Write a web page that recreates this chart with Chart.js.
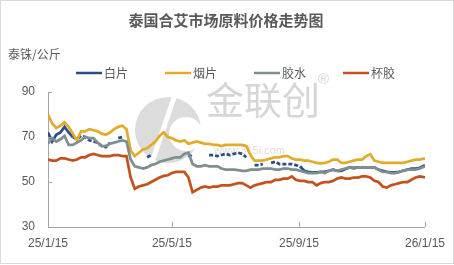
<!DOCTYPE html>
<html>
<head>
<meta charset="utf-8">
<script src="https://cdn.jsdelivr.net/npm/chart.js@4.4.1/dist/chart.umd.min.js"></script>
<style>
  html, body { margin: 0; padding: 0; background: #fff; }
  #wrap { width: 454px; height: 265px; }
</style>
</head>
<body>
<div id="wrap"><canvas id="priceChart" width="454" height="265"></canvas></div>
<script>
// days since 2025-01-15
const days = [
  0, 4, 8, 12, 16, 20, 24, 28, 32, 36,
  40, 44, 48, 52, 56, 60, 64, 68, 72, 76,
  80, 84, 88, 92, 96, 100, 104, 108, 112, 116,
  120, 124, 128, 132, 136, 140, 144, 148, 152, 156,
  160, 164, 168, 172, 176, 180, 184, 188, 192, 196,
  200, 204, 208, 212, 216, 220, 224, 228, 232, 236,
  240, 244, 248, 252, 256, 260, 264, 268, 272, 276,
  280, 284, 288, 292, 296, 300, 304, 308, 312, 316,
  320, 324, 328, 332, 336, 340, 344, 348, 352, 356,
  360, 365
];

const baiPian = [
  72, 68, 71, 72, 74.5, 72, 70, 69, 70.5, 70,
  68.5, 68, 67.5, 66, 65.5, 67.5, null, 69.5, 70, null,
  null, null, null, null, 61, 62, null, null, null, null,
  null, null, null, null, 61, 62.5, null, null, null, 62,
  62, 61.5, 62, 62.5, 62, 62.5, 63, 62.5, 61, null,
  57.5, 57.5, 58, null, 58.5, 59, 58, 58, 58, 58,
  57.5, 57, 55, 54.5, 54.3, 54.3, 54.5, 54.5, 55, 55.5,
  55, 55, 55.8, 56.5, 56.3, 56.5, 56.5, 56.5, 56.5, 56.5,
  55.5, 55, 54.5, 54.3, 54.3, 54.5, 55, 55.5, 56, 56,
  56.3, 57.5
];

const yanPian = [
  80, 76, 74, 75, 76.5, 74.5, 71.5, 68.5, 72.5, 72.5,
  73.5, 73, 72.5, 71.5, 71, 72, 73.5, 74.5, 75, 73.5,
  64, 61.5, 63, 64.5, 65, 66.5, 68, 70.5, 72, 70,
  69.5, 68.5, 68, 68.5, 67, 67.5, 68, 67.5, 67, 67,
  66.5, 66.5, 66, 66.5, 66.5, 66.5, 66.5, 66.5, 66, 62,
  59.5, 59.5, 59.5, 60, 60.5, 61, 61, 61.5, 61.5, 60.5,
  60, 60, 59.5, 59.5, 59, 58.5, 58.3, 58.5, 59, 60,
  60, 58.5, 58.5, 59, 59.5, 60, 60, 61.5, 62.3, 59.5,
  59, 58.5, 58.5, 58.5, 58.5, 58.5, 58.5, 59, 59.5, 60,
  60, 60.5
];

const jiaoShui = [
  67, 69.5, 68, 69, 70.5, 66.5, 66.5, 67.5, 68.5, 70,
  69.5, 69.5, 67.5, 66, 66, 67, 67.5, 68, 68.5, 68,
  60, 57, 56.5, 56, 56.5, 57.5, 58, 59, 59.5, 60,
  60.5, 61, 61, 62.5, 63, 58, 57, 57, 57.5, 57,
  57, 57, 56, 55.5, 55.5, 55.5, 55.3, 55, 55, 55.5,
  55.5, 55.5, 56, 56, 56, 55.5, 55.5, 56, 56, 55.5,
  55.5, 55, 54.5, 54, 54, 54, 54.5, 54, 55, 55.5,
  55, 55.5, 56, 56.5, 56, 56.5, 56.5, 56.5, 56.5, 56.5,
  55.5, 54.5, 54.5, 54, 54, 54.5, 55, 55.5, 55.5, 55.5,
  56, 57
];

const beiJiao = [
  60, 59.5, 59.5, 60.5, 60.5, 60, 59.5, 60, 61, 61,
  62, 62.5, 62, 61.5, 61.5, 61.5, 62, 62, 61.5, 61.5,
  52, 47, 48, 48.5, 49, 50, 51, 52, 52.7, 53,
  54, 54.5, 54.5, 54.5, 52, 45.5, 46.5, 47.5, 48, 47.5,
  48, 48, 48.5, 48.5, 48.5, 49, 49.5, 49.5, 48.5, 47.5,
  48.5, 49, 49.5, 50, 50, 51, 51, 51.5, 51.5, 52.5,
  51, 50.5, 50.5, 50, 50, 48.5, 49.5, 50, 50, 50.5,
  51.5, 52, 51.5, 51.5, 52, 52, 52.5, 52.5, 52, 50.5,
  50, 48, 47.5, 48.5, 49, 49.5, 50, 50, 51, 52,
  52.5, 52
];

const seriesNames = ["白片", "烟片", "胶水", "杯胶"];
const seriesColors = ["#2c4c8c", "#e2ab2c", "#7f8e8e", "#c3521f"];
const xTickDays = [0, 120, 243, 365];
const xTickLabels = ["25/1/15", "25/5/15", "25/9/15", "26/1/15"];
const yTicks = [30, 50, 70, 90];

const TEXT = "#595959";
const AXIS = "#a6a6a6";
const LATIN = "'Liberation Sans', 'Noto Sans CJK SC', sans-serif";
const CJK = "'Noto Sans CJK SC', sans-serif";

function pts(values) {
  return values.map((v, i) => ({ x: days[i], y: v }));
}

const decorPlugin = {
  id: "decor",
  beforeDatasetsDraw(chart) {
    const ctx = chart.ctx;
    ctx.save();
    // faint watermark logo
    ctx.fillStyle = "#dcdcdc";
    ctx.beginPath();
    ctx.arc(168, 130, 33, 0, Math.PI * 2);
    ctx.fill();
    ctx.fillStyle = "#fff";
    ctx.beginPath();
    ctx.arc(186, 134, 17, 0, Math.PI * 2);
    ctx.fill();
    ctx.strokeStyle = "#fff";
    ctx.lineWidth = 5;
    ctx.beginPath();
    ctx.moveTo(176, 92);
    ctx.lineTo(150, 168);
    ctx.stroke();
    ctx.fillStyle = "#d6d6d6";
    ctx.font = "38px " + CJK;
    ctx.textBaseline = "middle";
    ctx.fillText("金联创", 206, 100);
    ctx.font = "15px " + LATIN;
    ctx.fillText("®", 318, 80);
    ctx.font = "11px " + LATIN;
    ctx.fillStyle = "#dcdcdc";
    ctx.fillText("www.315i.com", 214, 151);
    ctx.restore();
  },
  afterDraw(chart) {
    const ctx = chart.ctx;
    const xs = chart.scales.x, ys = chart.scales.y;
    ctx.save();
    // inner tick marks
    ctx.strokeStyle = AXIS;
    ctx.lineWidth = 1;
    ctx.beginPath();
    xs.ticks.forEach(t => {
      const px = Math.round(xs.getPixelForValue(t.value)) + 0.5;
      ctx.moveTo(px, ys.bottom);
      ctx.lineTo(px, ys.bottom - 5);
    });
    ys.ticks.forEach(t => {
      const py = Math.round(ys.getPixelForValue(t.value)) + 0.5;
      ctx.moveTo(xs.left, py);
      ctx.lineTo(xs.left + 4, py);
    });
    ctx.stroke();

    // title
    ctx.fillStyle = TEXT;
    ctx.textAlign = "center";
    ctx.textBaseline = "middle";
    ctx.font = "bold 15px " + CJK;
    ctx.fillText("泰国合艾市场原料价格走势图", 226, 20);

    // unit
    ctx.textAlign = "left";
    ctx.font = "12px " + CJK;
    ctx.fillText("泰铢/公斤", 8, 54);

    // legend
    const legendX = [76, 165, 254, 343];
    seriesNames.forEach((name, i) => {
      ctx.strokeStyle = seriesColors[i];
      ctx.lineWidth = 2.5;
      ctx.beginPath();
      ctx.moveTo(legendX[i], 73);
      ctx.lineTo(legendX[i] + 26, 73);
      ctx.stroke();
      ctx.fillText(name, legendX[i] + 28, 73);
    });

    // outer border
    ctx.strokeStyle = "#d9d9d9";
    ctx.lineWidth = 1;
    ctx.strokeRect(0.5, 0.5, 453, 263);
    ctx.restore();
  }
};

const seriesData = [baiPian, yanPian, jiaoShui, beiJiao];

new Chart(document.getElementById("priceChart"), {
  type: "line",
  data: {
    datasets: seriesData.map((vals, i) => ({
      label: seriesNames[i],
      data: pts(vals),
      borderColor: seriesColors[i],
      backgroundColor: seriesColors[i],
      borderWidth: 2.75,
      pointRadius: 0,
      tension: 0,
      spanGaps: false,
      order: 4 - i,
      segment: i === 0 ? {
        borderDash: c => (c.p0DataIndex >= 6 && c.p0DataIndex < 61) ? [4, 2] : undefined
      } : undefined
    }))
  },
  options: {
    responsive: false,
    animation: false,
    devicePixelRatio: 1,
    layout: { padding: { top: 92, right: 29, left: 0, bottom: 0 } },
    plugins: { legend: { display: false }, tooltip: { enabled: false } },
    scales: {
      x: {
        type: "linear",
        min: 0,
        max: 365,
        afterBuildTicks: s => { s.ticks = xTickDays.map(v => ({ value: v })); },
        afterFit: s => { s.height = 38; },
        grid: { display: false, drawTicks: false },
        border: { color: AXIS, width: 1 },
        ticks: {
          autoSkip: false,
          maxRotation: 0,
          padding: 9,
          color: TEXT,
          font: { family: LATIN, size: 12 },
          callback: v => xTickLabels[xTickDays.indexOf(v)]
        }
      },
      y: {
        min: 30,
        max: 90,
        afterBuildTicks: s => { s.ticks = yTicks.map(v => ({ value: v })); },
        afterFit: s => { s.width = 48; },
        grid: { display: false, drawTicks: false },
        border: { color: AXIS, width: 1 },
        ticks: {
          padding: 13,
          color: TEXT,
          font: { family: LATIN, size: 12 }
        }
      }
    }
  },
  plugins: [decorPlugin]
});
</script>
</body>
</html>
